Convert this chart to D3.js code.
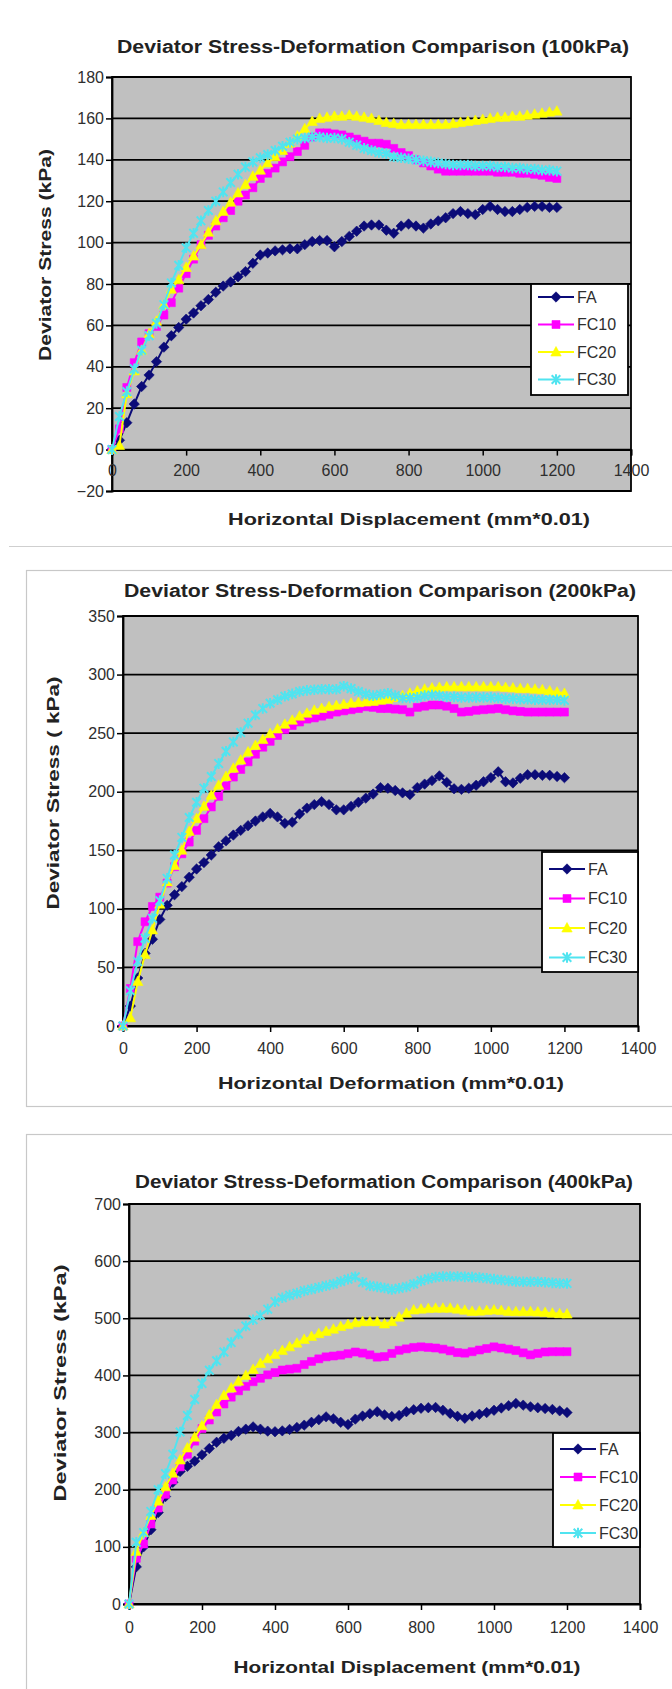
<!DOCTYPE html>
<html>
<head>
<meta charset="utf-8">
<script src="https://cdn.jsdelivr.net/npm/d3@7"></script>
<style>
  html, body { margin: 0; padding: 0; background: #fff; }
  svg { display: block; }
</style>
</head>
<body>
<svg id="chart" width="672" height="1689"></svg>
<script>
// ---------------- DATA ----------------
const displacement = [0,20,40,60,80,100,120,140,160,180,200,220,240,260,280,300,320,340,360,380,400,420,440,460,480,500,520,540,560,580,600,620,640,660,680,700,720,740,760,780,800,820,840,860,880,900,920,940,960,980,1000,1020,1040,1060,1080,1100,1120,1140,1160,1180,1200];
const seriesNames = ["FA", "FC10", "FC20", "FC30"];
const xTicks = [0, 200, 400, 600, 800, 1000, 1200, 1400];

// 100 kPa
const fa100 = [0,4.5,13,22,30.5,36,42.5,49.5,55,59, 63,66,69.5,72.5,76,79,81,83.5,86,90, 94,95,96,96.5,97,97,99,100.5,101,101, 98,100.5,103,105.5,108,108.5,108.5,106,104.5,108, 109,108,107,109,110.5,112,114,115,114,113.5, 116,117.5,116,115,115,116,117,117.5,117.5,117, 117];
const fc10_100 = [0,10,30,42,52,56,59.5,65,71,78, 85,92,99,103.5,108,112,115.5,120,123,126.5, 131,133.5,136,139,141.5,144,147,151,153,153, 152.5,152,151,150,149,148,148,147.5,145.5,143.5, 142,140,138.5,137,135.5,134.5,134.5,134.5,134.5,134.5, 134.5,134.5,134,134,134,133.5,133.5,133,132.5,131.5, 131];
const fc20_100 = [0,2,27,38,48,56,62,70,77.5,82, 88,93.5,99,105,110.5,115,119.5,124,128,132, 135,138.5,141.5,144.5,148,151.5,155,158.5,160,160.5, 161,161,161.5,161,160.5,160,159,158,157.5,157, 157,157,157,157,157,157,157.5,158,158.5,159, 159.5,160,160.5,160.5,161,161,161.5,162,162.5,163, 163.5];
const fc30_100 = [0,16,28,39,48,55,61,70,80.5,89, 97.5,104.5,110.5,115.5,120,124.5,129,133,136.5,139, 141,142.5,144.5,146.5,148.5,150,150.5,151,151,150.5, 150.5,150,148.5,147,145.5,144.5,143.5,143,141.5,141, 140.5,140,139.5,139,138.5,138,137.5,137.5,137.5,137, 137,137,136.5,136.5,136,136,135.5,135.5,135,135, 134.5];
const yTicks100 = [-20, 0, 20, 40, 60, 80, 100, 120, 140, 160, 180];

// 200 kPa
const fa200 = [0,17,41,62,74,91,103,112,119,127, 134,139.5,146,153,158,163,167,171,175,178.5, 181.5,178.5,173,174,181,186,189,191.5,189,184.5, 184.5,187.5,191,194.5,198,203.5,203,201,199,197.5, 203.5,206.5,209.5,213.5,208,202.5,202,203,205.5,208.5, 212,217,208.5,207.5,211.5,214.5,214.5,214,214,213, 212];
const fc10_200 = [0,32,72,89,102,110,122,136,147,157, 167,177,187,196,205,212.5,219,225.5,232,238, 243,248,253,256.5,259.5,262,263,264.5,266,268, 269,270,271,272.5,272,271,271,270.5,270,268, 272,273,274,274,273,271,268,268.5,269.5,270, 270.5,271,270,269,268.5,268,268,268,268,268, 268];
const fc20_200 = [0,7,38,61,82,104,123,137,150,166, 177,187.5,197,205.5,213,220,227,234,239.5,244.5, 249.5,253.5,257.5,261,264.5,267,269.5,271,272.5,273.5, 274.5,275.5,276,276.5,277,278,279,280.5,282,284, 286,287.5,288.5,289,289.5,289.5,289.5,289.5,289.5,289.5, 289.5,289.5,289,288.5,288,288,287.5,287,286,285, 284];
const fc30_200 = [0,30,55,75,92,107,126,146,161,178, 191,203,213,224,234.5,242.5,250.5,258.5,265.5,271, 275.5,278.5,281.5,283.5,285.5,286.5,287,287.5,287.5,287.5, 290,288,285.5,283.5,282,283,284,282,280,280, 280.5,282,282.5,282,281,281,280.5,280.5,280.5,280.5, 280.5,280,279.5,279.5,279,279,278.5,278.5,278.5,278.5, 278];
const yTicks200 = [0, 50, 100, 150, 200, 250, 300, 350];

// 400 kPa
const fa400 = [0,65,100,130,160,188,213,232,241,250, 261,272,283,290,295,302,306,310,306,302.5, 301.5,303,305.5,309,313,318,322.5,327.5,324,318, 314,323.5,329,333,336.5,331,328,330,336.5,340, 342.5,343.5,344,339,333.5,328.5,325,329,332,335, 339,343,347,351,348,345,343.5,342,340.5,338, 335];
const fc10_400 = [0,80,105,140,168,192,217,240,262,285, 307,322,336,350,362,373,381,389,395,401, 405,409.5,411,412.5,419,424.5,429,432.5,434,435.5, 438,441,439,436,432,433,438.5,444,446.5,449, 450,449,448,446,443,440,439,441.5,444.5,447, 450,448,446,443.5,439.5,436,438.5,441,441.5,441.5, 441.5];
const fc20_400 = [0,92,125,155,180,205,229,252,273,292, 312,331,349,365,378,390,400,410.5,421,429, 436.5,443.5,450,456.5,463,468,473,477,481,485.5, 489,492,494,494,494,490,494,502,509,514.5, 516,517,517.5,517.5,517.5,516,514,512,512.5,513.5, 514.5,513.5,512,511.5,511.5,511.5,511,510,509,508, 507.5];
const fc30_400 = [0,108,125,162,200,228,262,301,330,358, 386,409,425.5,441,457.5,472.5,486.5,497.5,505,516, 529,536,540.5,544,548,551,554,557,560,564.5, 568.5,572.5,563,557,555,553,550.5,552.5,555,560, 565.5,569,572,573,573,573,572.5,572,571.5,570, 568.5,567,565.5,564.5,564,564,564,563,562,561, 561];
const yTicks400 = [0, 100, 200, 300, 400, 500, 600, 700];

const titles = [
  "Deviator Stress-Deformation Comparison (100kPa)",
  "Deviator Stress-Deformation Comparison (200kPa)",
  "Deviator Stress-Deformation Comparison (400kPa)"
];
const xTitles = [
  "Horizontal Displacement (mm*0.01)",
  "Horizontal Deformation (mm*0.01)",
  "Horizontal Displacement (mm*0.01)"
];
const yTitles = ["Deviator Stress (kPa)", "Deviator Stress ( kPa)", "Deviator Stress (kPa)"];

// ---------------- STYLE ----------------
const colors = ["#0b0b78", "#ff00ff", "#ffff00", "#50e4f0"];
const FONT = "'Liberation Sans', Arial, Helvetica, sans-serif";
const TXT = "#2e2e2e";

const svg = d3.select("#chart");
svg.append("rect").attr("width", 672).attr("height", 1689).attr("fill", "#fff");

// frames / separators
svg.append("line").attr("x1", 9).attr("x2", 672).attr("y1", 546.5).attr("y2", 546.5)
  .attr("stroke", "#cfcfcf").attr("stroke-width", 1.2);
svg.append("rect").attr("x", 26.5).attr("y", 570.5).attr("width", 700).attr("height", 536)
  .attr("fill", "none").attr("stroke", "#c8c8c8").attr("stroke-width", 1.2);
svg.append("rect").attr("x", 26.5).attr("y", 1134.5).attr("width", 700).attr("height", 700)
  .attr("fill", "none").attr("stroke", "#c8c8c8").attr("stroke-width", 1.2);

function markerPath(i) {
  if (i === 0) return "M0,-5.2L5.2,0L0,5.2L-5.2,0Z";
  if (i === 1) return "M-4,-4H4V4H-4Z";
  if (i === 2) return "M0,-5.5L5.2,4L-5.2,4Z";
  return "M-4.3,-4.3L4.3,4.3M-4.3,4.3L4.3,-4.3M0,-5.3V5.3";
}

function drawChart(cfg) {
  const g = svg.append("g");
  const x = d3.scaleLinear().domain([0, 1400]).range([cfg.left, cfg.right]);
  const y = d3.scaleLinear().domain(cfg.yDomain).range([cfg.bottom, cfg.top]);

  // title
  g.append("text").attr("x", cfg.titleX).attr("y", cfg.titleY).attr("dy", "0.35em")
    .attr("text-anchor", "middle").attr("font-family", FONT).attr("font-weight", "bold")
    .attr("font-size", 17.5).attr("fill", "#222")
    .attr("textLength", cfg.titleLen).attr("lengthAdjust", "spacingAndGlyphs")
    .text(cfg.title);

  // plot background
  g.append("rect").attr("x", cfg.left).attr("y", cfg.top)
    .attr("width", cfg.right - cfg.left).attr("height", cfg.bottom - cfg.top)
    .attr("fill", "#c0c0c0");

  // gridlines
  g.selectAll(".grid").data(cfg.yTicks).enter().append("line")
    .attr("x1", cfg.left).attr("x2", cfg.right)
    .attr("y1", d => y(d)).attr("y2", d => y(d))
    .attr("stroke", "#000").attr("stroke-width", 1.8);

  // plot border
  g.append("rect").attr("x", cfg.left).attr("y", cfg.top)
    .attr("width", cfg.right - cfg.left).attr("height", cfg.bottom - cfg.top)
    .attr("fill", "none").attr("stroke", "#000").attr("stroke-width", 1.8);

  // y axis
  const yAxis = g.append("g").attr("transform", `translate(${cfg.left},0)`)
    .call(d3.axisLeft(y).tickValues(cfg.yTicks).tickSize(6).tickPadding(2)
      .tickFormat(d => d < 0 ? "\u2212" + Math.abs(d) : String(d)));
  yAxis.select(".domain").attr("stroke", "#000").attr("stroke-width", 1.8);
  yAxis.selectAll(".tick line").attr("stroke", "#000").attr("stroke-width", 1.5);
  yAxis.selectAll(".tick text").attr("font-family", FONT).attr("font-size", 16).attr("fill", TXT);

  // x axis at y = 0
  const xAxis = g.append("g").attr("transform", `translate(0,${y(0)})`)
    .call(d3.axisBottom(x).tickValues(xTicks).tickSize(6).tickPadding(cfg.xPad)
      .tickFormat(d => String(d)));
  xAxis.select(".domain").attr("stroke", "#000").attr("stroke-width", 1.8);
  xAxis.selectAll(".tick line").attr("stroke", "#000").attr("stroke-width", 1.5);
  xAxis.selectAll(".tick text").attr("font-family", FONT).attr("font-size", 16).attr("fill", TXT);

  // axis titles
  g.append("text").attr("x", cfg.xTitleX).attr("y", cfg.xTitleY).attr("dy", "0.35em")
    .attr("text-anchor", "middle").attr("font-family", FONT).attr("font-weight", "bold")
    .attr("font-size", 16.5).attr("fill", "#222")
    .attr("textLength", cfg.xTitleLen).attr("lengthAdjust", "spacingAndGlyphs")
    .text(cfg.xTitle);
  g.append("text")
    .attr("transform", `translate(${cfg.yTitleX},${cfg.yTitleY}) rotate(-90)`)
    .attr("dy", "0.35em").attr("text-anchor", "middle").attr("font-family", FONT)
    .attr("font-weight", "bold").attr("font-size", 16.5).attr("fill", "#222")
    .attr("textLength", cfg.yTitleLen).attr("lengthAdjust", "spacingAndGlyphs")
    .text(cfg.yTitle);

  // series
  const line = d3.line().x(d => x(d[0])).y(d => y(d[1]));
  cfg.series.forEach((vals, i) => {
    const pts = displacement.map((d, k) => [d, vals[k]]);
    const sg = g.append("g");
    sg.append("path").datum(pts).attr("d", line)
      .attr("fill", "none").attr("stroke", colors[i]).attr("stroke-width", 2);
    sg.selectAll("path.m").data(pts).enter().append("path").attr("class", "m")
      .attr("transform", d => `translate(${x(d[0])},${y(d[1])})`)
      .attr("d", markerPath(i))
      .attr("fill", i === 3 ? "none" : colors[i])
      .attr("stroke", colors[i]).attr("stroke-width", i === 3 ? 2 : 0.6);
  });

  // legend
  const L = cfg.legend;
  const lg = g.append("g");
  lg.append("rect").attr("x", L.x).attr("y", L.y).attr("width", L.w).attr("height", L.h)
    .attr("fill", "#fff").attr("stroke", "#000").attr("stroke-width", 1.8);
  seriesNames.forEach((name, i) => {
    const ry = L.row0 + i * L.step;
    lg.append("line").attr("x1", L.x + 7).attr("x2", L.x + 43).attr("y1", ry).attr("y2", ry)
      .attr("stroke", colors[i]).attr("stroke-width", 2);
    lg.append("path").attr("transform", `translate(${L.x + 25},${ry})`).attr("d", markerPath(i))
      .attr("fill", i === 3 ? "none" : colors[i]).attr("stroke", colors[i])
      .attr("stroke-width", i === 3 ? 2 : 0.6);
    lg.append("text").attr("x", L.x + 46).attr("y", ry).attr("dy", "0.35em")
      .attr("font-family", FONT).attr("font-size", 16).attr("fill", TXT).text(name);
  });
}

drawChart({
  title: titles[0], titleX: 373, titleY: 47, titleLen: 512,
  left: 112, right: 631, top: 77, bottom: 491, yDomain: [-20, 180], yTicks: yTicks100, xPad: 9,
  xTitle: xTitles[0], xTitleX: 409, xTitleY: 519, xTitleLen: 362,
  yTitle: yTitles[0], yTitleX: 45, yTitleY: 255, yTitleLen: 212,
  series: [fa100, fc10_100, fc20_100, fc30_100],
  legend: { x: 531, y: 284, w: 97, h: 111, row0: 297, step: 27.5 }
});
drawChart({
  title: titles[1], titleX: 380, titleY: 591, titleLen: 512,
  left: 123, right: 638, top: 616, bottom: 1026, yDomain: [0, 350], yTicks: yTicks200, xPad: 11,
  xTitle: xTitles[1], xTitleX: 391, xTitleY: 1083, xTitleLen: 346,
  yTitle: yTitles[1], yTitleX: 53, yTitleY: 793, yTitleLen: 233,
  series: [fa200, fc10_200, fc20_200, fc30_200],
  legend: { x: 542, y: 852, w: 96, h: 120, row0: 869, step: 29.5 }
});
drawChart({
  title: titles[2], titleX: 384, titleY: 1182, titleLen: 498,
  left: 129, right: 640, top: 1204, bottom: 1604, yDomain: [0, 700], yTicks: yTicks400, xPad: 12,
  xTitle: xTitles[2], xTitleX: 407, xTitleY: 1667, xTitleLen: 347,
  yTitle: yTitles[2], yTitleX: 60, yTitleY: 1383, yTitleLen: 237,
  series: [fa400, fc10_400, fc20_400, fc30_400],
  legend: { x: 553, y: 1433, w: 87, h: 114, row0: 1449, step: 28 }
});
</script>
</body>
</html>
